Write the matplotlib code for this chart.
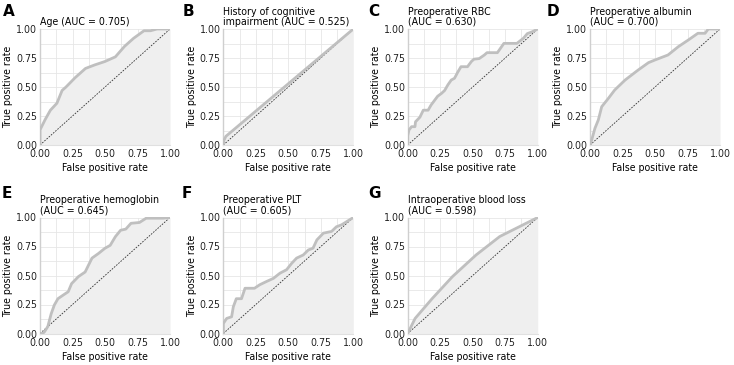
import matplotlib
matplotlib.use("Agg")
import matplotlib.pyplot as plt
import numpy as np
from matplotlib.ticker import MultipleLocator

plt.rcParams['font.family'] = ['DejaVu Sans']
plt.rcParams['font.stretch'] = 'condensed'

letters = ["A", "B", "C", "D", "E", "F", "G"]
names = ["Age", "History of cognitive\nimpairment", "Preoperative RBC\n", "Preoperative albumin\n",
         "Preoperative hemoglobin\n", "Preoperative PLT\n", "Intraoperative blood loss\n"]
aucs = [0.705, 0.525, 0.630, 0.700, 0.645, 0.605, 0.598]
tick_labels = ["0.00", "0.25", "0.50", "0.75", "1.00"]

fpr_a = [0, 0, 0.04, 0.08, 0.13, 0.17, 0.20, 0.27, 0.35, 0.42, 0.50, 0.58, 0.65, 0.72, 0.80, 0.85, 0.90, 1.0]
tpr_a = [0, 0.13, 0.22, 0.30, 0.36, 0.47, 0.50, 0.58, 0.66, 0.69, 0.72, 0.76, 0.85, 0.92, 0.985, 0.985, 1.0, 1.0]

fpr_b = [0, 0.005, 0.02, 1.0]
tpr_b = [0, 0.04, 0.075, 1.0]

fpr_c = [0, 0.0, 0.01, 0.03, 0.056, 0.06, 0.094, 0.12, 0.157, 0.18, 0.21, 0.23, 0.26, 0.284, 0.31, 0.335,
         0.36, 0.386, 0.41, 0.46, 0.49, 0.51, 0.55, 0.59, 0.61, 0.69, 0.74, 0.84, 0.89, 0.92, 0.96, 1.0]
tpr_c = [0, 0.08, 0.13, 0.158, 0.158, 0.2, 0.24, 0.30, 0.30, 0.345, 0.39, 0.42, 0.445, 0.47, 0.52, 0.56,
         0.575, 0.63, 0.675, 0.675, 0.72, 0.74, 0.745, 0.776, 0.796, 0.796, 0.876, 0.876, 0.92, 0.96, 0.977, 1.0]

fpr_d = [0, 0.013, 0.038, 0.064, 0.09, 0.14, 0.19, 0.27, 0.37, 0.45, 0.5, 0.6, 0.68, 0.756, 0.83, 0.885, 0.91, 1.0]
tpr_d = [0, 0.043, 0.144, 0.216, 0.33, 0.40, 0.474, 0.56, 0.646, 0.71, 0.733, 0.776, 0.848, 0.905, 0.963, 0.963, 1.0, 1.0]

fpr_e = [0, 0.02, 0.034, 0.06, 0.086, 0.11, 0.138, 0.177, 0.217, 0.243, 0.295, 0.347, 0.4, 0.45, 0.5,
         0.54, 0.58, 0.62, 0.66, 0.7, 0.765, 0.817, 0.948, 1.0]
tpr_e = [0, 0, 0.014, 0.06, 0.17, 0.245, 0.30, 0.33, 0.36, 0.43, 0.49, 0.53, 0.65, 0.69, 0.735,
         0.76, 0.835, 0.89, 0.9, 0.95, 0.957, 0.994, 0.994, 1.0]

fpr_f = [0, 0, 0.026, 0.064, 0.077, 0.1, 0.14, 0.167, 0.24, 0.28, 0.33, 0.385, 0.436, 0.487, 0.526,
         0.564, 0.615, 0.654, 0.69, 0.72, 0.77, 0.833, 0.87, 0.91, 0.95, 1.0]
tpr_f = [0, 0.086, 0.13, 0.144, 0.23, 0.30, 0.30, 0.39, 0.39, 0.42, 0.447, 0.475, 0.52, 0.55, 0.605,
         0.65, 0.677, 0.72, 0.735, 0.807, 0.865, 0.88, 0.92, 0.937, 0.965, 1.0]

fpr_g = [0, 0.057, 0.1875, 0.344, 0.526, 0.708, 1.0]
tpr_g = [0, 0.13, 0.30, 0.49, 0.677, 0.836, 1.0]

fprs = [fpr_a, fpr_b, fpr_c, fpr_d, fpr_e, fpr_f, fpr_g]
tprs = [tpr_a, tpr_b, tpr_c, tpr_d, tpr_e, tpr_f, tpr_g]

W, H = 734, 365
fig = plt.figure(figsize=(W / 100, H / 100), dpi=100)

col_left = [40, 223.3, 407.7, 590]
row_top = [29, 217.5]
aw, ah = 130, 116
letter_x = [3, 183, 368, 547, 2, 182, 368]
letter_y = [11, 11, 11, 11, 194, 194, 194]

fs = 7.6
curve_col = "#bfbfbf"
fill_col = "#efefef"
grid_col = "#e6e6e6"

for i in range(7):
    r, c = divmod(i, 4)
    x0 = col_left[c]
    y0 = row_top[r]
    ax = fig.add_axes([x0 / W, 1 - (y0 + ah) / H, aw / W, ah / H])
    ax.set_xlim(0, 1)
    ax.set_ylim(0, 1)
    ax.fill_between(fprs[i], tprs[i], 0, color=fill_col, lw=0, zorder=1)
    ax.plot([0, 1], [0, 1], ls=(0, (2, 1.5)), color="#333333", lw=0.6, zorder=3)
    ax.plot(fprs[i], tprs[i], color=curve_col, lw=2.0, zorder=4,
            solid_joinstyle='round', solid_capstyle='round')
    ax.set_xticks(np.linspace(0, 1, 5))
    ax.set_xticklabels(tick_labels)
    ax.set_yticks(np.linspace(0, 1, 5))
    ax.set_yticklabels(tick_labels)
    ax.xaxis.set_minor_locator(MultipleLocator(0.125))
    ax.yaxis.set_minor_locator(MultipleLocator(0.125))
    ax.grid(True, which='both', color=grid_col, lw=0.6, zorder=0)
    ax.set_axisbelow(True)
    ax.tick_params(which='both', length=0, labelsize=fs, colors="#222222")
    ax.tick_params(axis='x', pad=3)
    ax.tick_params(axis='y', pad=2)
    for s in ["top", "right"]:
        ax.spines[s].set_visible(False)
    ax.spines["left"].set_color("#cfcfcf")
    ax.spines["left"].set_linewidth(1.0)
    ax.spines["bottom"].set_color("#e0e0e0")
    ax.spines["bottom"].set_linewidth(0.8)
    ax.set_xlabel("False positive rate", fontsize=fs, labelpad=3)
    ax.set_ylabel("True positive rate", fontsize=fs, labelpad=2)
    sep = "" if names[i].endswith("\n") else " "
    title = "%s%s(AUC = %.3f)" % (names[i], sep, aucs[i])
    ax.set_title(title, loc='left', fontsize=fs, pad=3, linespacing=1.0)
    fig.text(letter_x[i] / W, 1 - letter_y[i] / H, letters[i], fontsize=11,
             fontweight='bold', ha='left', va='center', fontstretch='normal')

fig.savefig("out.png", dpi=100)
